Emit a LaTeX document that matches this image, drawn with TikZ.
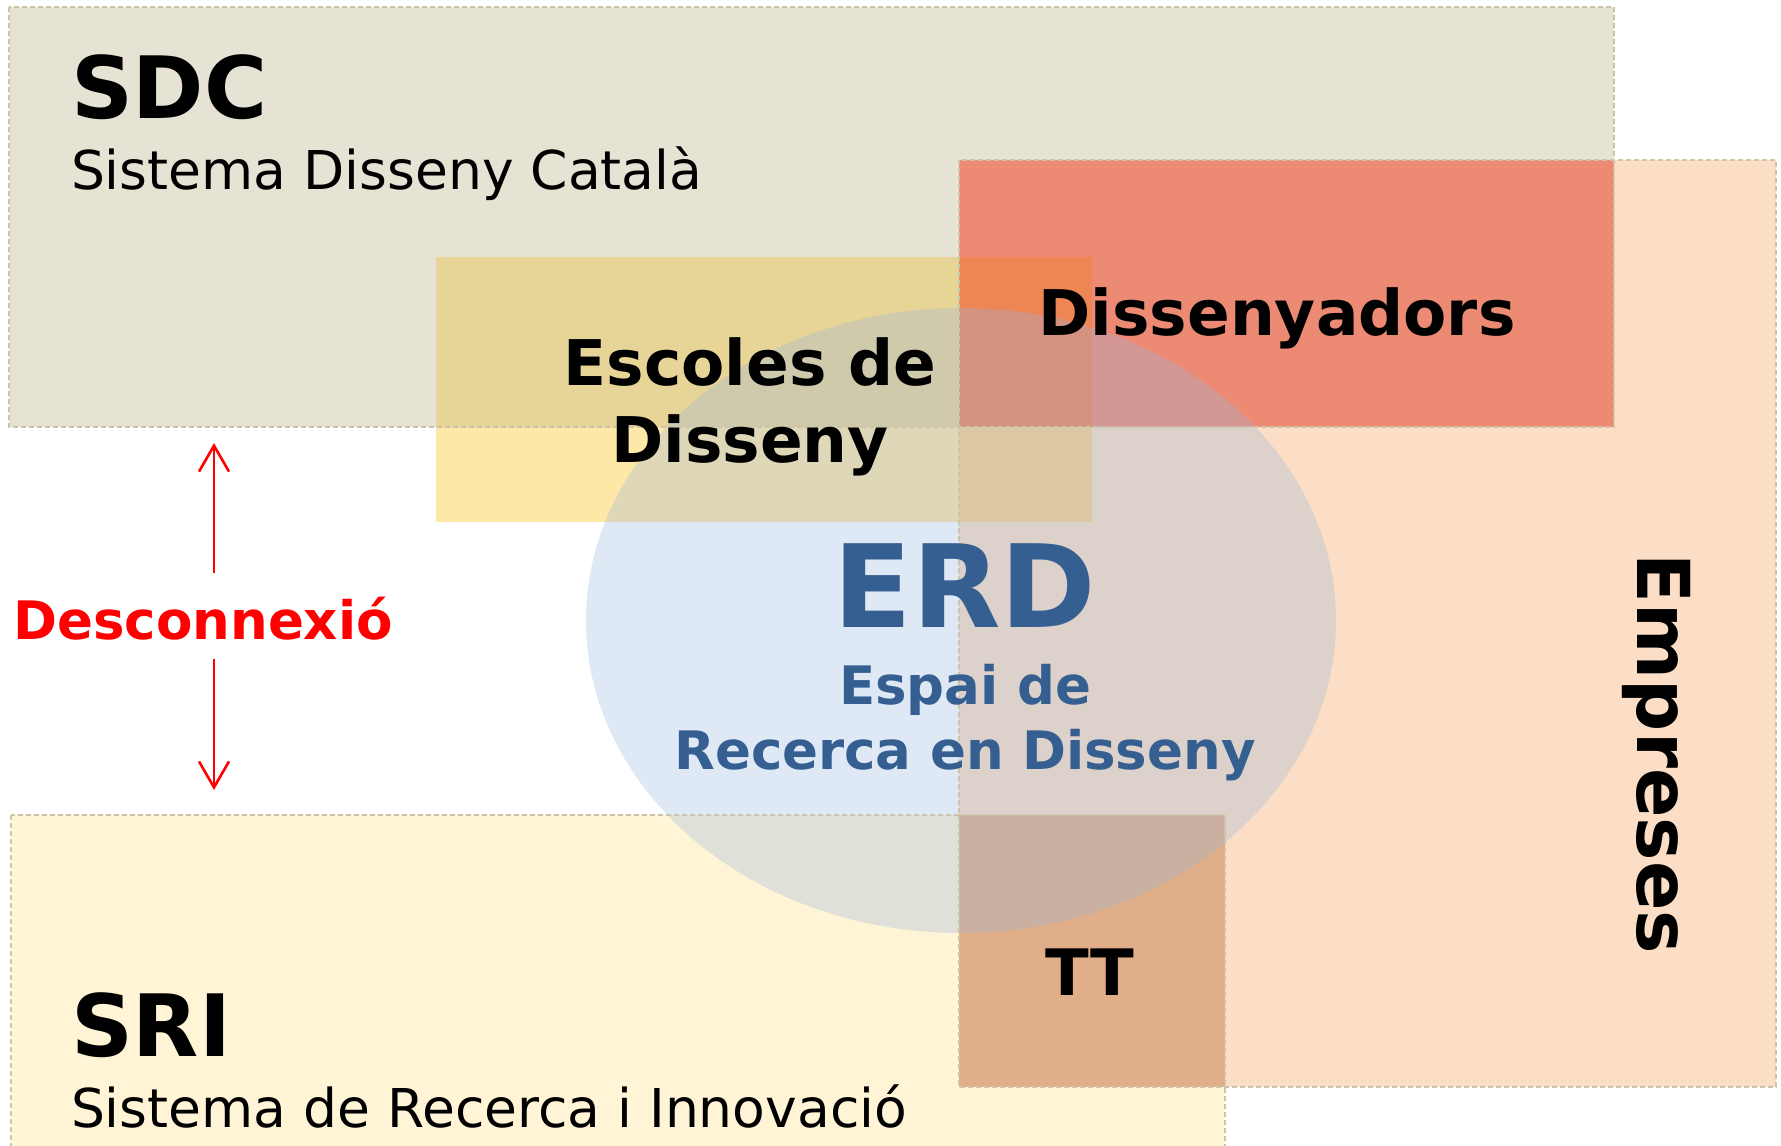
\documentclass[tikz,border=0pt]{standalone}
\usepackage{fontspec}
\setmainfont{DejaVu Sans}
\usetikzlibrary{arrows.meta,shapes.geometric}
\definecolor{sdcC}{HTML}{E6E2D4}
\definecolor{empC}{HTML}{FBDEC5}
\definecolor{sriC}{HTML}{FFF5D6}
\definecolor{disC}{HTML}{ED8A74}
\definecolor{ttC}{HTML}{E0AE88}
\definecolor{escC}{HTML}{FDE8A8}
\definecolor{escSdcC}{HTML}{E7D497}
\definecolor{escDisC}{HTML}{EE8555}
\definecolor{escEmpC}{HTML}{FAD28C}
\definecolor{ellC}{RGB}{152,182,222}
\definecolor{borderC}{HTML}{CBC4A6}
\definecolor{erdC}{HTML}{365F91}
\definecolor{redC}{HTML}{FF0000}
\begin{document}
\begin{tikzpicture}[x=1pt,y=-1pt,
  box/.style={inner sep=0pt, outer sep=0pt, anchor=north west, draw=none},
  border/.style={draw=borderC, line width=1.4pt, dash pattern=on 5pt off 3pt},
  txt/.style={inner sep=0pt, outer sep=0pt},
  bigb/.style={txt, font=\fontsize{86}{100}\selectfont\bfseries},
  subt/.style={txt, font=\fontsize{53.5}{64}\selectfont},
  lab/.style={txt, font=\fontsize{63}{75}\selectfont\bfseries},
  arr/.style={draw=redC, line width=2.6pt, -{Straight Barb[length=26pt,width=30pt,line width=2.6pt]}}
]
\useasboundingbox (0,0) rectangle (1781,1146);
\clip (0,0) rectangle (1781,1146);
\fill[white] (0,0) rectangle (1781,1146);

% main boxes
\node[box, fill=sdcC, minimum width=1605pt, minimum height=420pt] (sdc) at (9,7) {};
\node[box, fill=empC, minimum width=817pt, minimum height=927pt] (emp) at (959,160) {};
\node[box, fill=sriC, minimum width=1214pt, minimum height=360pt] (sri) at (11,815) {};
\node[box, fill=disC, minimum width=655pt, minimum height=267pt] (dis) at (959,160) {};
\node[box, fill=ttC, minimum width=266pt, minimum height=272pt] (tt) at (959,815) {};
\node[box, fill=escC, minimum width=656pt, minimum height=265pt] (esc) at (436,257) {};
% overlaps of Escoles
\fill[escSdcC] (esc.north west) rectangle (sdc.south -| emp.west);
\fill[escDisC] (esc.north -| emp.west) rectangle (sdc.south -| esc.east);
\fill[escEmpC] (sdc.south -| emp.west) rectangle (esc.south east);

% ellipse
\node[ellipse, fill=ellC, fill opacity=0.3, draw=none, inner sep=0pt,
      minimum width=750pt, minimum height=625pt] (erd) at (961,620.5) {};

% borders
\draw[border] (sdc.north west) rectangle (sdc.south east);
\draw[border] (emp.north west) rectangle (emp.south east);
\draw[border] (sri.north west) rectangle (sri.south east);

% texts
\node[bigb, anchor=base west] (sdcT) at (71,118) {SDC};
\node[subt, anchor=base west] (sdcS) at (71,189) {Sistema Disseny Català};
\node[bigb, anchor=base west] (sriT) at (71,1056) {SRI};
\node[subt, anchor=base west] (sriS) at (71,1127) {Sistema de Recerca i Innovació};
\node[lab, anchor=base] (disT) at (1277,335) {Dissenyadors};
\node[lab, anchor=base] (esc1) at (750,385) {Escoles de};
\node[lab, anchor=base] (esc2) at (750,462) {Disseny};
\node[txt, anchor=base, text=erdC, font=\fontsize{115}{130}\selectfont\bfseries] (erdT) at (965,627) {ERD};
\node[txt, anchor=base, text=erdC, font=\fontsize{53}{64}\selectfont\bfseries] (erd1) at (965,704) {Espai de};
\node[txt, anchor=base, text=erdC, font=\fontsize{53}{64}\selectfont\bfseries] (erd2) at (965,769) {Recerca en Disseny};
\node[txt, anchor=base, font=\fontsize{64}{76}\selectfont\bfseries] (ttT) at (1090,995) {TT};
\node[txt, anchor=base, rotate=-90, font=\fontsize{73}{88}\selectfont\bfseries] (empT) at (1637,754) {Empreses};
\node[txt, anchor=base, text=redC, text height=38pt, text depth=0pt,
      font=\fontsize{53}{63}\selectfont\bfseries] (desc) at (203,639) {Desconnexió};

% arrows
\coordinate (ax) at (214,0);
\draw[arr, shorten <=28pt, shorten >=16pt] (desc.north -| ax) -- (sdc.south -| ax);
\draw[arr, shorten <=20pt, shorten >=25pt] (desc.south -| ax) -- (sri.north -| ax);
\end{tikzpicture}
\end{document}
